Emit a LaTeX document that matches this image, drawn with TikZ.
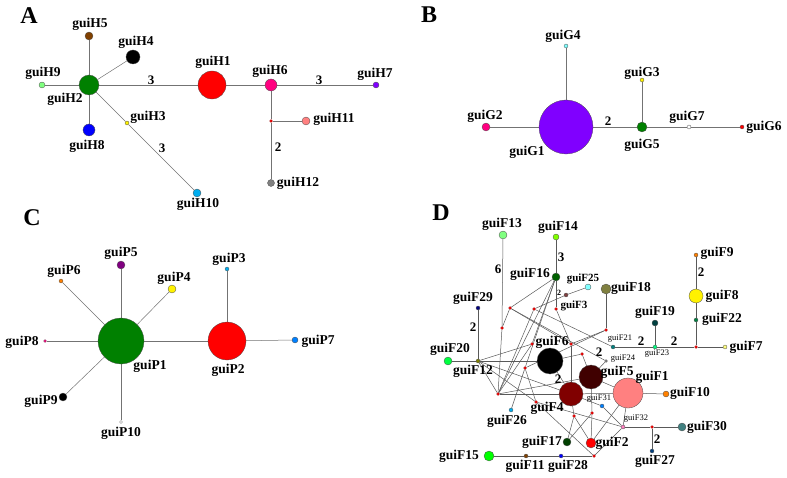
\documentclass[tikz,border=0pt]{standalone}
\usepackage{fontspec}
\setmainfont{Liberation Serif}
\pgfdeclarelayer{bg}\pgfsetlayers{bg,main}
\definecolor{cgreen}{HTML}{008000}\definecolor{cbrown}{HTML}{804000}
\definecolor{cpink}{HTML}{FF0080}\definecolor{cviolet}{HTML}{8000FF}
\definecolor{csalmon}{HTML}{FF8080}\definecolor{clgreen}{HTML}{80FF80}
\definecolor{clcyan}{HTML}{80FFFF}\definecolor{cpurple}{HTML}{800080}
\definecolor{corange}{HTML}{FF8000}\definecolor{cazure}{HTML}{0080FF}
\definecolor{cygreen}{HTML}{80FF00}\definecolor{cdgreen}{HTML}{006000}
\definecolor{colive}{HTML}{808040}\definecolor{cnavy}{HTML}{000080}
\definecolor{crust}{HTML}{804040}\definecolor{cmint}{HTML}{00FF40}
\definecolor{colive2}{HTML}{808000}\definecolor{cmaroon}{HTML}{400000}
\definecolor{cdred}{HTML}{800000}\definecolor{crose}{HTML}{FF80C0}
\definecolor{cforest}{HTML}{004000}\definecolor{cteal}{HTML}{008080}
\definecolor{cdteal}{HTML}{004040}\definecolor{cspring}{HTML}{00FF80}
\definecolor{cjade}{HTML}{008040}\definecolor{clyellow}{HTML}{FFFF80}
\definecolor{cslate}{HTML}{408080}\definecolor{cdazure}{HTML}{004080}
\tikzset{
  hap/.style={circle,draw=black!70,line width=0.3pt,inner sep=0pt,minimum size=#1},
  mv/.style={circle,fill=red,draw=red!50!black,line width=0.2pt,inner sep=0pt,minimum size=3pt},
  lab/.style={font=\fontsize{13.5}{15}\selectfont\bfseries,inner sep=0pt},
  mlab/.style={font=\fontsize{11}{12}\selectfont\bfseries,inner sep=0pt},
  slab/.style={font=\fontsize{8.5}{9}\selectfont,inner sep=0pt},
  num/.style={font=\fontsize{13}{14}\selectfont\bfseries,inner sep=0pt},
  link/.style={draw=black!55,line width=0.5pt},
  panel/.style={font=\fontsize{24}{26}\selectfont\bfseries,inner sep=0pt}
}
\begin{document}
\begin{tikzpicture}[x=1pt,y=-1pt]
\useasboundingbox (0,0) rectangle (787,478);
% panel A
\node[panel] (pA) at (29,16) {A};
\node[hap=20pt,fill=cgreen] (H2) at (89,85) {};
\node[hap=8pt,fill=cbrown] (H5) at (89,36) {};
\node[hap=14pt,fill=black] (H4) at (133,57) {};
\node[hap=6pt,fill=clgreen] (H9) at (42,85) {};
\node[hap=12pt,fill=blue] (H8) at (89,130) {};
\node[hap=4pt,fill=yellow] (H3) at (127,123) {};
\node[hap=8pt,fill=cyan] (H10) at (197,193) {};
\node[hap=28pt,fill=red] (H1) at (212,85) {};
\node[hap=12pt,fill=cpink] (H6) at (271,85) {};
\node[hap=6pt,fill=cviolet] (H7) at (376,85) {};
\node[mv] (mA) at (271,121) {};
\node[hap=8pt,fill=csalmon] (H11) at (306,121) {};
\node[hap=7pt,fill=gray] (H12) at (271,183) {};
\begin{pgfonlayer}{bg}
  \foreach \a/\b in {H2/H5,H2/H4,H2/H9,H2/H8,H2/H3,H3/H10,H2/H1,H1/H6,H6/H7,H6/mA,mA/H11,mA/H12}
    \draw[link] (\a)--(\b);
\end{pgfonlayer}
\node[lab] (lH5) at (90,24) {guiH5};   \node[lab] (lH4) at (136,42) {guiH4};
\node[lab] (lH9) at (43,73) {guiH9};   \node[lab] (lH2) at (65,99) {guiH2};
\node[lab] (lH8) at (87,146) {guiH8};  \node[lab] (lH3) at (148,117) {guiH3};
\node[lab] (lH10) at (198,204) {guiH10}; \node[lab] (lH1) at (213,62) {guiH1};
\node[lab] (lH6) at (270,71) {guiH6};  \node[lab] (lH7) at (375,74) {guiH7};
\node[lab] (lH11) at (334,119) {guiH11}; \node[lab] (lH12) at (298,183) {guiH12};
\node[num] (nA1) at (151,80) {3}; \node[num] (nA2) at (319,80) {3};
\node[num] (nA3) at (162,148) {3}; \node[num] (nA4) at (278,147) {2};
% panel B
\node[panel] (pB) at (429,15) {B};
\node[hap=54pt,fill=cviolet] (G1) at (566,127) {};
\node[hap=4pt,fill=clcyan] (G4) at (566,46) {};
\node[hap=8pt,fill=cpink] (G2) at (486,127) {};
\node[hap=10pt,fill=cgreen] (G5) at (642,127) {};
\node[hap=4pt,fill=yellow] (G3) at (642,80) {};
\node[hap=4pt,fill=white] (G7) at (689,127) {};
\node[hap=4pt,fill=red] (G6) at (742,127) {};
\begin{pgfonlayer}{bg}
  \foreach \a/\b in {G2/G1,G1/G4,G1/G5,G5/G3,G5/G7,G7/G6}
    \draw[link] (\a)--(\b);
\end{pgfonlayer}
\node[lab] (lG4) at (563,36) {guiG4}; \node[lab] (lG3) at (642,73) {guiG3};
\node[lab] (lG2) at (485,116) {guiG2}; \node[lab] (lG1) at (527,152) {guiG1};
\node[lab] (lG5) at (642,145) {guiG5}; \node[lab] (lG7) at (687,117) {guiG7};
\node[lab] (lG6) at (764,127) {guiG6};
\node[num] (nB1) at (608,121) {2};
% panel C
\node[panel] (pC) at (32,218) {C};
\node[hap=46pt,fill=cgreen] (P1) at (121,341) {};
\node[hap=38pt,fill=red] (P2) at (227,341) {};
\node[hap=8pt,fill=cpurple] (P5) at (121,265) {};
\node[hap=4pt,fill=corange] (P6) at (61,281) {};
\node[hap=8pt,fill=yellow] (P4) at (172,289) {};
\node[hap=4pt,fill=cyan] (P3) at (227,269) {};
\node[hap=3pt,fill=cpink] (P8) at (45,341) {};
\node[hap=6pt,fill=cazure] (P7) at (295,340) {};
\node[hap=8pt,fill=black] (P9) at (63,397) {};
\node[hap=3pt,fill=white] (P10) at (121,422) {};
\begin{pgfonlayer}{bg}
  \foreach \a/\b in {P1/P5,P1/P6,P1/P4,P1/P8,P1/P9,P1/P10,P1/P2,P2/P3,P2/P7}
    \draw[link] (\a)--(\b);
\end{pgfonlayer}
\node[lab] (lP5) at (121,253) {guiP5}; \node[lab] (lP6) at (64,271) {guiP6};
\node[lab] (lP4) at (174,278) {guiP4}; \node[lab] (lP3) at (229,259) {guiP3};
\node[lab] (lP8) at (22,342) {guiP8};  \node[lab] (lP7) at (318,341) {guiP7};
\node[lab] (lP1) at (150,366) {guiP1}; \node[lab] (lP2) at (228,370) {guiP2};
\node[lab] (lP9) at (41,401) {guiP9};  \node[lab] (lP10) at (121,433) {guiP10};
% panel D
\node[panel] (pD) at (441,213) {D};
\node[hap=8pt,fill=clgreen] (F13) at (503,235) {};
\node[hap=6pt,fill=cygreen] (F14) at (556,237) {};
\node[hap=8pt,fill=cdgreen] (F16) at (556,277) {};
\node[hap=6pt,fill=clcyan] (F25) at (588,287) {};
\node[hap=10pt,fill=colive] (F18) at (606,289) {};
\node[hap=4pt,fill=cnavy] (F29) at (478,308) {};
\node[hap=4pt,fill=crust] (F3) at (566,295) {};
\node[hap=8pt,fill=cmint] (F20) at (448,361) {};
\node[hap=4pt,fill=colive2] (F12) at (478,361) {};
\node[hap=26pt,fill=black] (F6) at (550,361) {};
\node[hap=24pt,fill=cmaroon] (F5) at (591,377) {};
\node[hap=24pt,fill=cdred] (F4) at (571,394) {};
\node[hap=30pt,fill=csalmon] (F1) at (628,393) {};
\node[hap=4pt,fill=cyan] (F26) at (511,410) {};
\node[hap=4pt,fill=cazure] (F31) at (602,406) {};
\node[hap=4pt,fill=crose] (F32) at (623,427) {};
\node[hap=8pt,fill=cforest] (F17) at (567,442) {};
\node[hap=10pt,fill=red] (F2) at (591,443) {};
\node[hap=10pt,fill=green] (F15) at (489,456) {};
\node[hap=4pt,fill=cbrown] (F11) at (526,456) {};
\node[hap=4pt,fill=blue] (F28) at (561,456) {};
\node[hap=4pt,fill=corange] (F9) at (696,255) {};
\node[hap=14pt,fill=yellow] (F8) at (696,296) {};
\node[hap=4pt,fill=cjade] (F22) at (696,320) {};
\node[hap=6pt,fill=cdteal] (F19) at (655,323) {};
\node[hap=4pt,fill=cspring] (F23) at (655,347) {};
\node[hap=4pt,fill=cteal] (F21) at (613,347) {};
\node[hap=3pt,fill=gray] (F24) at (606,361) {};
\node[hap=4pt,fill=clyellow] (F7) at (725,347) {};
\node[hap=6pt,fill=corange] (F10) at (666,394) {};
\node[hap=8pt,fill=cslate] (F30) at (682,427) {};
\node[hap=4pt,fill=cdazure] (F27) at (652,451) {};
% median vectors
\foreach \n/\x/\y in {m1/510/308,m2/534/309,m3/556/309,m4/502/328,m5/606/330,
  m6/532/344,m7/571/344,m8/582/354,m9/525/368,m10/498/394,m11/536/402,
  m12/574/416,m13/592/413,m14/594/456,m15/696/347,m16/652/427}
  \node[mv] (\n) at (\x,\y) {};
\begin{pgfonlayer}{bg}
  \foreach \a/\b in {F13/m4,F14/F16,F16/m1,F16/m3,F16/m6,F16/m9,F16/m10,
    F25/F3,F3/m2,F29/F12,F20/F12,F12/F6,F12/m6,F12/m11,F12/m10,F12/F4,
    m1/m4,m1/m7,m1/F24,m2/m10,m2/F21,m3/m7,F18/m5,m5/m7,m5/m9,m7/F4,
    m8/F6,m8/F5,m6/m10,m4/m10,m9/m11,m9/F26,m10/F4,F4/F1,m10/F5,m11/m14,
    F4/m12,m12/F17,m12/F2,F5/m13,m13/F2,m13/F17,F4/F31,F31/F32,F1/F2,
    m11/F32,F1/F32,m14/F32,F15/F11,F11/F28,F28/m14,F21/F23,F23/m15,
    m15/F7,F19/F23,m15/F22,F22/F8,F8/F9,F1/F10,F32/m16,m16/F30,m16/F27,
    F24/F5,F5/F1,F6/F4}
    \draw[link,draw=black!65] (\a)--(\b);
\end{pgfonlayer}
\node[lab] (lF13) at (502,224) {guiF13}; \node[lab] (lF14) at (558,227) {guiF14};
\node[lab] (lF16) at (530,274) {guiF16}; \node[mlab] (lF25) at (583,279) {guiF25};
\node[mlab] (lF3) at (574,306) {guiF3};  \node[lab] (lF29) at (473,298) {guiF29};
\node[lab] (lF18) at (631,288) {guiF18}; \node[lab] (lF9) at (717,253) {guiF9};
\node[lab] (lF8) at (722,296) {guiF8};   \node[lab] (lF22) at (722,319) {guiF22};
\node[lab] (lF19) at (655,312) {guiF19}; \node[lab] (lF7) at (746,347) {guiF7};
\node[slab] (lF21) at (620,339) {guiF21}; \node[slab] (lF23) at (657,354) {guiF23};
\node[slab] (lF24) at (623,359) {guiF24}; \node[lab] (lF20) at (450,349) {guiF20};
\node[lab] (lF12) at (473,371) {guiF12}; \node[lab] (lF6) at (552,342) {guiF6};
\node[lab] (lF5) at (617,372) {guiF5};   \node[lab] (lF1) at (652,377) {guiF1};
\node[lab] (lF10) at (690,393) {guiF10}; \node[lab] (lF4) at (547,408) {guiF4};
\node[lab] (lF26) at (507,421) {guiF26}; \node[slab] (lF31) at (599,399) {guiF31};
\node[slab] (lF32) at (636,419) {guiF32}; \node[lab] (lF17) at (542,442) {guiF17};
\node[lab] (lF2) at (612,443) {guiF2};   \node[lab] (lF30) at (707,427) {guiF30};
\node[lab] (lF27) at (655,461) {guiF27}; \node[lab] (lF15) at (459,456) {guiF15};
\node[lab] (lF11) at (525,466) {guiF11}; \node[lab] (lF28) at (568,466) {guiF28};
\node[num] (nD1) at (498,269) {6}; \node[num] (nD2) at (561,257) {3};
\node[num] (nD3) at (473,327) {2};
\node[font=\fontsize{8}{9}\selectfont\bfseries,inner sep=0pt] (nD4) at (559,293) {2};
\node[num] (nD5) at (558,379) {2}; \node[num] (nD6) at (599,352) {2};
\node[num] (nD7) at (641,341) {2}; \node[num] (nD8) at (674,341) {2};
\node[num] (nD9) at (701,272) {2}; \node[num] (nD10) at (657,439) {2};
\end{tikzpicture}
\end{document}
